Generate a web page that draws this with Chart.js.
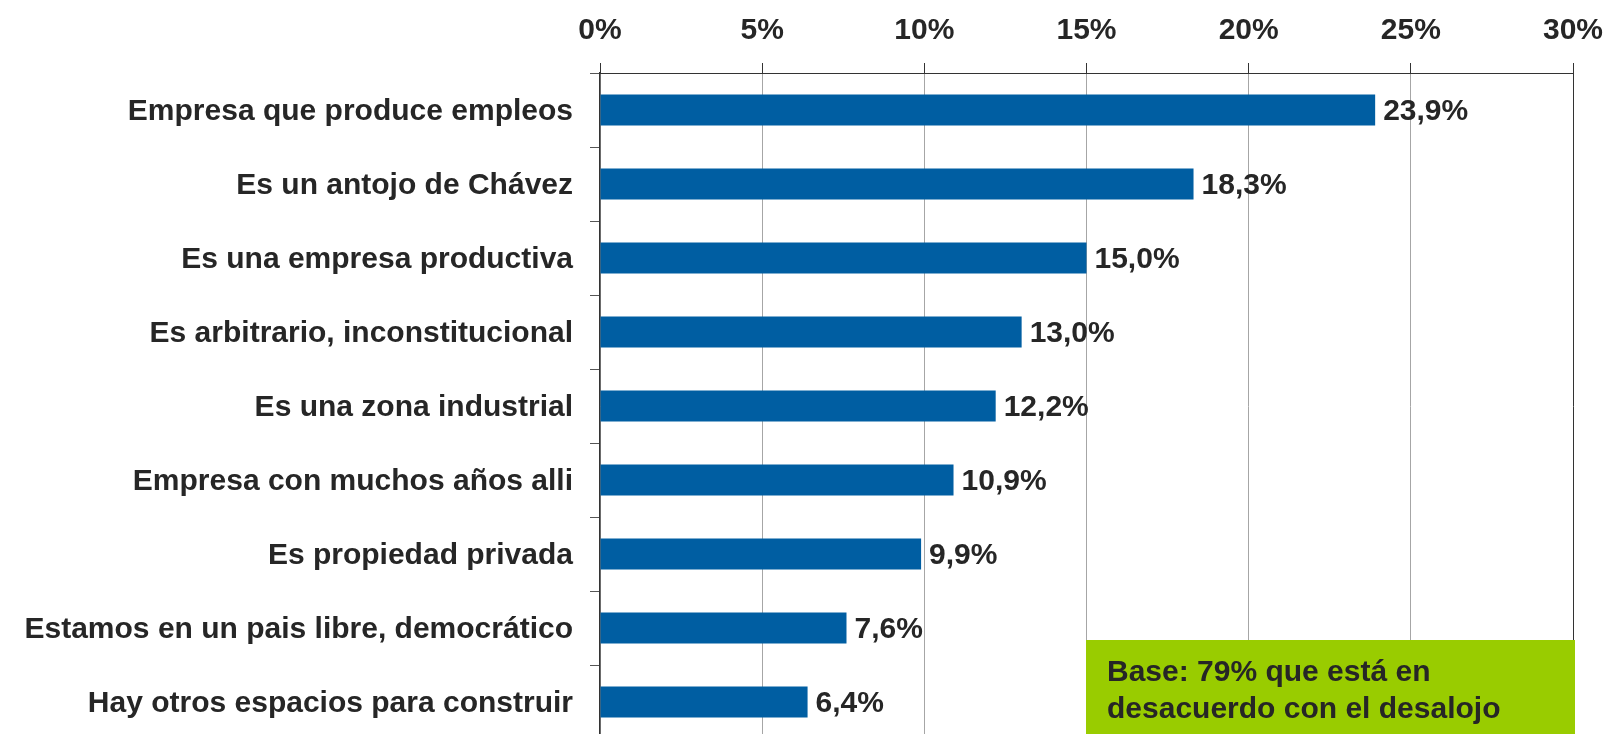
<!DOCTYPE html>
<html>
<head>
<meta charset="utf-8">
<script src="https://cdn.jsdelivr.net/npm/chart.js@4/dist/chart.umd.min.js"></script>
<style>
  html, body { margin: 0; padding: 0; background: #ffffff; overflow: hidden; }
  #wrap { width: 1608px; height: 739px; position: relative; }
</style>
</head>
<body>
<div id="wrap"><canvas id="c"></canvas></div>
<script>
const categories = [
  'Empresa que produce empleos',
  'Es un antojo de Chávez',
  'Es una empresa productiva',
  'Es arbitrario, inconstitucional',
  'Es una zona industrial',
  'Empresa con muchos años alli',
  'Es propiedad privada',
  'Estamos en un pais libre, democrático',
  'Hay otros espacios para construir'
];
const values = [23.9, 18.3, 15.0, 13.0, 12.2, 10.9, 9.9, 7.6, 6.4];
const xTicks = [0, 5, 10, 15, 20, 25, 30];
const noteLines = ['Base: 79% que está en', 'desacuerdo con el desalojo'];

const FONT = '"Liberation Sans", Arial, Helvetica, sans-serif';
const TEXT = '#262626';

const valueLabels = {
  id: 'valueLabels',
  afterDatasetsDraw(chart) {
    const ctx = chart.ctx;
    const meta = chart.getDatasetMeta(0);
    ctx.save();
    ctx.font = 'bold 30px ' + FONT;
    ctx.fillStyle = TEXT;
    ctx.textAlign = 'left';
    ctx.textBaseline = 'middle';
    meta.data.forEach((bar, i) => {
      const txt = values[i].toFixed(1).replace('.', ',') + '%';
      ctx.fillText(txt, bar.x + 8, bar.y + 2);
    });
    ctx.restore();
  }
};

const noteBox = {
  id: 'noteBox',
  afterDraw(chart) {
    const ctx = chart.ctx;
    const xs = chart.scales.x;
    const left = xs.getPixelForValue(15) - 0.5;
    const right = xs.getPixelForValue(30) + 2;
    const top = 640;
    ctx.save();
    ctx.fillStyle = '#99cc00';
    ctx.fillRect(left, top, right - left, chart.height - top);
    ctx.font = 'bold 30px ' + FONT;
    ctx.fillStyle = TEXT;
    ctx.textAlign = 'left';
    ctx.textBaseline = 'alphabetic';
    noteLines.forEach((line, i) => {
      ctx.fillText(line, left + 21, top + 41 + i * 36.6);
    });
    ctx.restore();
  }
};

new Chart(document.getElementById('c'), {
  type: 'bar',
  data: {
    labels: categories,
    datasets: [{
      data: values,
      backgroundColor: '#005ea2',
      borderWidth: 0,
      barPercentage: 0.42,
      categoryPercentage: 1.0
    }]
  },
  options: {
    indexAxis: 'y',
    responsive: true,
    maintainAspectRatio: false,
    animation: false,
    layout: { padding: { top: 0, right: 35, bottom: 0, left: 0 } },
    plugins: {
      legend: { display: false },
      tooltip: { enabled: false }
    },
    scales: {
      x: {
        position: 'top',
        min: 0,
        max: 30,
        afterBuildTicks(scale) {
          scale.ticks = xTicks.map(v => ({ value: v }));
        },
        afterFit(scale) {
          scale.height = 73;
          scale.paddingLeft = 0;
          scale.paddingRight = 0;
        },
        ticks: {
          callback: v => v + '%',
          color: TEXT,
          font: { family: FONT, size: 30, weight: 'bold' },
          padding: 14,
          maxRotation: 0
        },
        grid: {
          color: ctx => (ctx.tick && ctx.tick.value === 30) ? '#333333' : '#a6a6a6',
          tickColor: '#333333',
          tickLength: 10,
          lineWidth: 1
        },
        border: { display: true, color: '#333333', width: 1 }
      },
      y: {
        afterFit(scale) {
          scale.width = 600;
          scale.paddingTop = 0;
          scale.paddingBottom = 0;
        },
        ticks: {
          color: TEXT,
          font: { family: FONT, size: 30, weight: 'bold' },
          padding: 17,
          labelOffset: 2,
          autoSkip: false
        },
        grid: {
          offset: true,
          drawOnChartArea: false,
          tickLength: 10,
          tickColor: '#555555',
          lineWidth: 1
        },
        border: { display: true, color: '#333333', width: 1.5 }
      }
    }
  },
  plugins: [valueLabels, noteBox]
});
</script>
</body>
</html>
